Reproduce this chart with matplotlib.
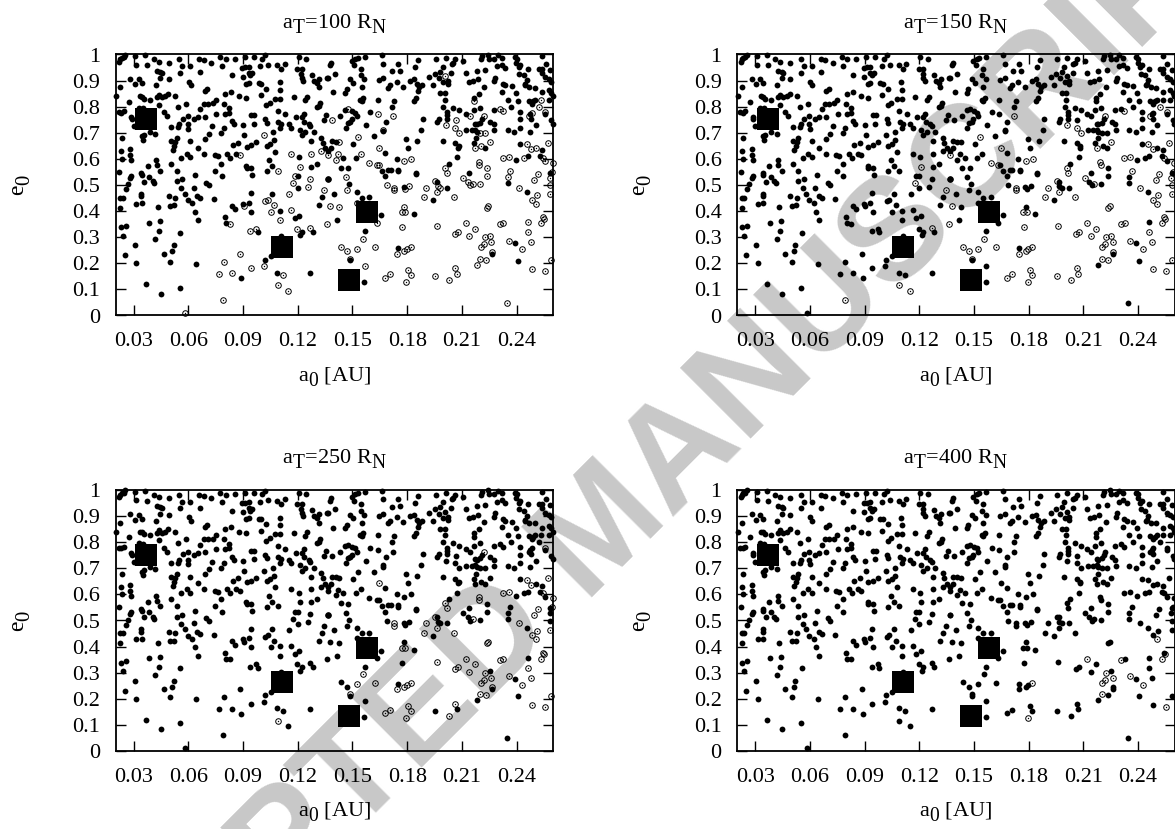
import matplotlib
matplotlib.use('Agg')
import matplotlib.pyplot as plt
import matplotlib._mathtext as mathtext_internal
import numpy as np

plt.rcParams['font.family'] = ['Liberation Serif', 'DejaVu Serif']
plt.rcParams['mathtext.fontset'] = 'custom'
plt.rcParams['mathtext.rm'] = 'Liberation Serif'
plt.rcParams['mathtext.it'] = 'Liberation Serif:italic'
plt.rcParams['mathtext.bf'] = 'Liberation Serif:bold'
# subscripts in the original are bigger and sit lower than the matplotlib default
mathtext_internal.SHRINK_FACTOR = 0.88
mathtext_internal.FontConstantsBase.sub1 = 0.55
mathtext_internal.FontConstantsBase.sub2 = 0.55

titles = [r'$\mathrm{a_T}$=100 $\mathrm{R_N}$', r'$\mathrm{a_T}$=150 $\mathrm{R_N}$',
          r'$\mathrm{a_T}$=250 $\mathrm{R_N}$', r'$\mathrm{a_T}$=400 $\mathrm{R_N}$']
x_ticks = [0.03, 0.06, 0.09, 0.12, 0.15, 0.18, 0.21, 0.24]
x_labels = ['0.03', '0.06', '0.09', '0.12', '0.15', '0.18', '0.21', '0.24']
y_ticks = [0, 0.1, 0.2, 0.3, 0.4, 0.5, 0.6, 0.7, 0.8, 0.9, 1]
y_labels = ['0', '0.1', '0.2', '0.3', '0.4', '0.5', '0.6', '0.7', '0.8', '0.9', '1']

# the big black squares (a0, e0)
planets = [(0.0370, 0.751), (0.1112, 0.264), (0.1582, 0.395), (0.1483, 0.134)]

# (a0, e0) of the small points. filled in every panel
filled_all = [
    (.0226,.981),(.0235,.987),(.0254,.998),(.0221,.972),(.0244,.989),(.0308,.993),(.0312,.961),(.0363,.997),
    (.0372,.959),(.0409,.981),(.0437,.972),(.0491,.968),(.055,.981),(.0565,.955),(.0552,.929),(.061,.955),
    (.0662,.932),(.066,.981),(.0684,.978),(.0726,.968),(.0775,.989),(.0784,.955),(.0806,.981),(.0854,.983),
    (.0909,.989),(.0958,.989),(.0894,.949),(.0912,.951),(.093,.952),(.093,.929),(.0949,.927),(.094,.921),
    (.0995,.955),(.1004,.984),(.1022,.997),(.1037,.961),(.1086,.959),(.111,.946),(.1128,.964),(.1205,.989),
    (.1247,.983),(.1196,.945),(.1223,.946),(.122,.926),(.1223,.910),(.1229,.900),(.1278,.923),(.1291,.900),
    (.1319,.906),(.1361,.910),(.1306,.891),(.1315,.875),(.0281,.906),(.0305,.885),(.0327,.904),(.0345,.889),
    (.0226,.875),(.0422,.882),(.0446,.908),(.0491,.905),(.0427,.938),(.0446,.933),(.0455,.929),(.0601,.895),
    (.0614,.882),(.0702,.866),(.0689,.859),(.0839,.921),(.0898,.914),(.0918,.887),(.093,.891),(.0986,.889),
    (.1,.887),(.1026,.869),(.1101,.894),(.1104,.864),(.0803,.849),(.0834,.857),(.0879,.839),(.0918,.834),
    (.0998,.844),(.1178,.836),(.1251,.838),(.1242,.825),(.0204,.840),(.0332,.840),(.0345,.838),(.0354,.831),
    (.0387,.827),(.0437,.846),(.0427,.836),(.0455,.836),(.0473,.840),(.0488,.849),(.0528,.840),(.0272,.818),
    (.0437,.808),(.0543,.798),(.0587,.811),(.0665,.789),(.0684,.811),(.0706,.811),(.0733,.812),(.0751,.827),
    (.0797,.811),(.0824,.793),(.1026,.806),(.1046,.815),(.1077,.831),(.1104,.831),(.1090,.785),(.1306,.798),
    (.1324,.812),(.1319,.802),(.0327,.795),(.0350,.793),(.0244,.783),(.0217,.779),(.0232,.776),(.0464,.779),
    (.0482,.763),(.0286,.760),(.0290,.751),(.0299,.725),(.057,.753),(.0596,.763),(.0629,.751),(.0652,.760),
    (.0689,.761),(.0753,.772),(.0803,.772),(.0824,.776),(.0839,.744),(.0848,.732),(.0901,.729),(.0945,.767),
    (.0962,.767),(.0958,.735),(.1022,.751),(.1031,.738),(.1092,.742),(.1132,.772),(.1108,.734),(.1104,.719),
    (.115,.732),(.1165,.719),(.119,.760),(.1233,.772),(.1223,.760),(.1236,.742),(.126,.732),(.1269,.725),
    (.1357,.767),(.1346,.748),(.055,.732),(.0543,.721),(.0506,.721),(.0596,.732),(.0598,.716),(.0729,.725),
    (.0793,.719),(.0781,.700),(.0711,.696),(.0689,.677),(.0907,.691),(.1064,.702),(.1211,.712),(.1242,.702),
    (.1223,.691),(.1287,.702),(.0345,.687),(.0354,.693),(.035,.674),(.0387,.703),(.0418,.696),(.0235,.678),
    (.0506,.668),(.0537,.678),(.0528,.664),(.061,.668),(.0523,.649),(.0515,.632),(.065,.642),(.0843,.652),
    (.0872,.661),(.0921,.646),(.0945,.652),(.0973,.664),(.1031,.651),(.1050,.657),(.1068,.671),(.1273,.668),
    (.133,.680),(.1337,.661),(.1352,.640),(.1077,.627),(.023,.629),(.0281,.636),(.0281,.613),(.0235,.601),
    (.0286,.595),(.0592,.620),(.056,.604),(.061,.606),(.0687,.619),(.0744,.614),(.0762,.610),(.0812,.619),
    (.083,.604),(.0863,.619),(.1205,.606),(.0424,.594),(.0427,.576),(.0378,.572),(.0506,.581),(.0781,.581),
    (.1044,.594),(.1059,.572),(.1306,.581),(.1273,.569),(.0537,.555),(.0446,.555),(.0748,.555),(.0918,.572),
    (.0921,.563),(.0945,.563),(.1031,.553),(.0221,.550),(.0341,.544),
    (.0286,.534),(.0281,.525),(.0268,.502),(.0257,.483),(.0345,.538),(.0358,.512),(.0385,.531),(.0404,.515),
    (.0413,.506),(.0537,.515),(.0565,.521),(.0638,.538),(.0561,.487),(.0629,.489),(.0698,.508),(.0711,.499),
    (.0784,.534),(.0949,.538),(.1201,.534),(.1366,.521),(.12,.487),(.0226,.451),(.0239,.451),(.0340,.466),
    (.0341,.457),(.0491,.457),(.0528,.451),(.0579,.466),(.0649,.457),(.0665,.448),(.0596,.441),(.0620,.429),
    (.074,.446),(.0943,.469),(.1061,.466),(.0314,.428),(.0345,.429),(.0501,.421),(.0523,.423),(.0431,.414),
    (.0226,.413),(.0839,.421),(.0854,.407),(.0899,.428),(.0932,.432),(.1315,.423),(.1331,.452),(.0634,.397),
    (.0945,.397),(.1103,.402),(.1209,.382),(.1183,.373),(.0799,.377),(.0652,.364),(.0383,.356),(.0442,.361),
    (.0806,.354),(.0228,.337),(.0255,.344),(.1282,.321),(.1223,.321),(.1214,.307),(.0437,.323),(.0555,.317),
    (.098,.319),(.0239,.305),(.0418,.291),(.0519,.268),(.0305,.269),(.051,.247),(.0250,.231),(.0466,.236),
    (.111,.304),(.1053,.227),(.0499,.206),(.0314,.201),(.0643,.198),(.1086,.164),(.1269,.161),(.0365,.119),
    (.0552,.106),(.0447,.083),(.089,.143),(.1018,.213),
    (.1383,.968),(.1377,.959),(.1496,.974),(.1514,.984),(.1529,.987),(.1511,.959),(.1566,.991),(.1661,.997),
    (.167,.965),(.1547,.946),(.1544,.921),(.1564,.904),(.1551,.875),(.1716,.936),(.1747,.964),(.1760,.938),
    (.1862,.977),(.1844,.951),(.1957,.981),(.2012,.987),(.2063,.981),(.2054,.968),(.2045,.964),(.1996,.952),
    (.2109,.974),(.2122,.927),(.2182,.938),(.2228,.942),(.2206,.981),(.2213,.993),(.2246,.998),(.225,.984),
    (.2278,.984),(.2296,.997),(.232,.987),(.2294,.955),(.232,.961),(.2338,.949),(.2389,.989),(.2402,.984),
    (.2398,.968),(.2411,.951),(.242,.959),(.2461,.945),(.2539,.993),(.2561,.965),(.2521,.946),(.2539,.946),
    (.2539,.929),(.2558,.913),(.2576,.904),(.2590,.895),(.2585,.942),(.2415,.926),(.2439,.921),(.2457,.901),
    (.1405,.926),(.1368,.910),(.1922,.913),(.195,.926),(.1972,.908),(.1981,.933),(.2041,.929),(.1999,.894),
    (.2023,.898),(.2023,.885),(.1941,.882),(.1816,.900),(.184,.904),(.1853,.885),(.1866,.875),(.1884,.881),
    (.1862,.859),(.1778,.877),(.1743,.895),(.1643,.901),(.167,.908),(.1697,.872),(.1707,.881),(.2137,.894),
    (.2159,.898),(.2186,.904),(.2283,.910),(.2279,.898),(.2323,.887),(.2338,.882),(.2375,.878),(.2223,.877),
    (.2444,.881),(.2471,.875),(.2499,.872),(.2448,.885),(.1395,.855),(.1460,.853),(.1469,.866),(.1487,.904),
    (.1505,.891),(.1981,.852),(.2005,.852),(.2192,.850),(.232,.857),(.2396,.853),(.2539,.855),(.2576,.862),
    (.2590,.853),(.1542,.827),(.1560,.834),(.1551,.823),(.1639,.827),(.1729,.823),(.184,.823),(.1849,.834),
    (.2005,.827),(.2168,.834),(.2352,.827),(.2407,.823),(.2466,.823),(.2493,.821),(.2503,.827),(.2484,.811),
    (.2576,.827),(.2598,.840),(.1719,.799),(.1999,.799),(.2054,.795),(.2087,.786),(.2164,.786),(.2197,.795),
    (.2274,.786),(.2371,.799),(.2420,.780),(.2558,.770),(.1460,.786),(.1500,.783),(.1514,.776),(.1524,.763),
    (.1597,.779),(.2018,.779),(.2018,.766),(.2018,.754),(.2122,.772),(.2213,.751),(.2475,.770),(.2481,.754),
    (.2420,.751),(.2590,.747),(.2598,.735),(.1432,.763),(.1496,.751),(.1487,.742),(.1474,.738),(.1886,.754),
    (.1972,.754),(.1965,.742),(.1683,.742),(.2256,.742),(.2274,.732),(.2173,.734),(.2182,.732),(.2201,.738),
    (.1573,.728),(.1463,.719),(.2124,.710),(.2155,.709),(.2173,.712),(.2182,.703),(.2279,.710),(.2351,.710),
    (.2387,.702),(.2420,.719),(.2475,.703),(.2506,.728),(.1877,.712),(.1670,.706),(.1617,.686),(.1794,.677),
    (.1855,.670),(.1996,.668),(.2179,.678),(.2164,.659),(.2063,.659),(.2082,.649),(.2080,.643),(.1386,.668),
    (.1408,.665),(.1505,.657),(.1807,.642),(.1383,.640),(.1679,.623),(.2228,.640),(.2420,.657),(.2539,.632),
    (.2530,.610),(.1450,.604),(.1518,.604),(.1743,.601),(.2076,.606),(.2396,.594),(.2461,.610),(.2027,.581),
    (.1436,.566),(.1478,.563),(.1697,.559),(.1710,.559),(.1752,.559),(.1752,.553),(.1661,.555),(.1847,.544),
    (.2140,.546),(.2585,.546),(.1368,.629),
    (.1483,.502),(.1401,.464),(.1524,.473),(.1551,.451),(.1591,.453),(.1657,.384),(.1417,.364),(.1566,.323),
    (.1487,.212),(.1564,.129),(.1679,.534),(.178,.492),(.1965,.512),(.2021,.489),(.1939,.441),(.1835,.388),
    (.2353,.506),(.2457,.473),(.2265,.236),(.2389,.276),(.2406,.209),(.1749,.258),(.1847,.540),
]

# open only in the first panel
open_to_100 = [
    (.1017,.691),(.0881,.614),(.1163,.620),(.1273,.620),(.1328,.629),(.1090,.555),(.1183,.534),(.1269,.524),
    (.1256,.493),(.1152,.464),(.1022,.438),(.1035,.444),(.1072,.423),(.0903,.418),(.1051,.398),(.1165,.404),
    (.1103,.364),(.0826,.352),(.1196,.332),(.0940,.323),(.0971,.332),(.0883,.236),(.0793,.206),(.1013,.188),
    (.0943,.180),(.0766,.160),(.0837,.162),(.1119,.155),(.0583,.010),
    (.2009,.917),(.2168,.821),(.1478,.789),(.1639,.770),(.1390,.747),(.2067,.747),(.2144,.763),(.2307,.792),
    (.2536,.827),(.2484,.776),(.2201,.700),(.2228,.700),(.1670,.712),(.1428,.664),(.2506,.640),(.2206,.649),
    (.1423,.617),(.1408,.597),(.1546,.620),(.2439,.604),(.2558,.591),(.2237,.563),(.1643,.578),
    (.1463,.530),(.1472,.479),(.1524,.432),(.1427,.415),(.1633,.355),(.1688,.499),(.1789,.483),(.1811,.495),
    (.1968,.495),(.1981,.489),(.2133,.512),(.2146,.499),(.2197,.502),(.2237,.534),(.2351,.530),(.2462,.358),
    (.2345,.049),(.2182,.194),(.1785,.416),(.1566,.190),
]

# open in the first two panels
open_to_150 = [
    (.1366,.614),(.1211,.569),(.1174,.506),(.1346,.479),(.1361,.351),(.1269,.336),(.1148,.094),(.0792,.060),
    (.1721,.763),(.1533,.684),(.1591,.585),(.1633,.578),(.2012,.728),(.2063,.719),(.2085,.700),(.2325,.783),
    (.2521,.799),(.2466,.763),(.2252,.664),(.2173,.640),(.2365,.553),(.1785,.591),(.1822,.601),
    (.1438,.263),(.1470,.247),(.1772,.337),(.1954,.153),(.2071,.160),(.2254,.305),(.1377,.419),(.2109,.527),
    (.2581,.527),(.2585,.499),
]

# open in the first three panels
open_to_250 = [
    (.109,.115),(.1646,.642),(.2009,.566),(.2018,.546),(.2192,.589),(.2195,.578),(.2356,.608),(.2323,.604),
    (.2457,.655),(.2481,.636),(.2572,.661),(.2543,.604),(.2598,.585),(.2594,.550),(.2517,.543),(.2219,.763),
    (.2558,.779),(.1368,.521),(.1954,.515),(.1904,.489),(.1965,.473),(.1730,.489),(.1730,.479),(.2411,.489),
    (.1891,.453),(.2056,.453),(.2585,.464),(.2497,.520),(.2160,.504),(.2484,.444),(.2512,.461),(.2246,.419),
    (.2237,.413),(.1771,.396),(.1789,.396),(.1961,.342),(.2060,.313),(.2078,.321),(.2170,.333),(.2461,.318),
    (.2479,.280),(.2140,.303),(.2327,.354),(.1785,.247),(.1798,.253),(.1745,.236),(.1524,.255),(.1555,.294),
    (.1621,.262),(.1487,.218),(.1681,.144),(.1707,.157),(.1807,.174),(.1820,.155),(.2030,.135),(.2063,.180),
    (.2234,.213),(.2484,.176),(.2587,.211),(.2545,.377),(.2265,.244),
]

# open in all four panels
open_to_400 = [
    (.2506,.428),(.2534,.353),(.2548,.370),(.2307,.349),(.2122,.354),(.2225,.299),(.2204,.262),(.2221,.273),
    (.2261,.281),(.2356,.287),(.2428,.254),(.2201,.217),(.2554,.169),(.1794,.128),(.1820,.262),
]

# index = how many panels (from the first) the group stays open in
groups = [filled_all, open_to_100, open_to_150, open_to_250, open_to_400]

fig = plt.figure(figsize=(11.75, 8.291), dpi=100)
W, H = 1175.0, 829.0
boxes = [(115.5, 54.5), (737, 54.5), (115.5, 490), (737, 490)]
ax_w, ax_h = 437.5, 261.0

# watermark sits behind the axes
fig.text(604 / W, 1 - 532 / H, 'ACCEPTED MANUSCRIPT', family='Liberation Sans', fontweight='bold',
         fontsize=104, color='#c8c8c8', rotation=45, rotation_mode='anchor',
         ha='center', va='center', zorder=-1)

for i, (left, top) in enumerate(boxes):
    ax = fig.add_axes([left / W, 1 - (top + ax_h) / H, ax_w / W, ax_h / H])
    ax.patch.set_visible(False)

    filled, hollow = [], []
    for level, pts in enumerate(groups):
        if level > i:
            hollow += pts
        else:
            filled += pts
    filled = np.array(filled)
    hollow = np.array(hollow)

    ax.plot(filled[:, 0], filled[:, 1], 'o', color='black', ms=4.2, mew=0, clip_on=False, zorder=3)
    if len(hollow):
        ax.plot(hollow[:, 0], hollow[:, 1], 'o', mfc='none', mec='black', ms=4.0, mew=0.7, clip_on=False, zorder=3)
        ax.plot(hollow[:, 0], hollow[:, 1], 'o', color='black', ms=1.0, mew=0, clip_on=False, zorder=3)
    ax.plot([p[0] for p in planets], [p[1] for p in planets], 's', color='black', ms=15.8, mew=0, zorder=4)

    ax.set_xlim(0.02, 0.26)
    ax.set_ylim(0, 1)
    ax.set_xticks(x_ticks)
    ax.set_xticklabels(x_labels)
    ax.set_yticks(y_ticks)
    ax.set_yticklabels(y_labels)
    ax.tick_params(axis='both', direction='in', top=True, right=True, length=7.2, width=1.0,
                   labelsize=16, color='black')
    ax.tick_params(axis='x', pad=12)
    ax.tick_params(axis='y', pad=11)
    for s in ax.spines.values():
        s.set_linewidth(1.3)

    ax.set_title(titles[i], fontsize=16, pad=19)
    ax.set_xlabel(r'$\mathrm{a_0}$ [AU]', fontsize=16, va='baseline')
    ax.xaxis.set_label_coords(0.5, -0.252)
    ax.set_ylabel(r'$\mathrm{e_0}$', fontsize=17, va='baseline')
    ax.yaxis.set_label_coords(-0.208, 0.5)

fig.savefig('out.png', dpi=100)
